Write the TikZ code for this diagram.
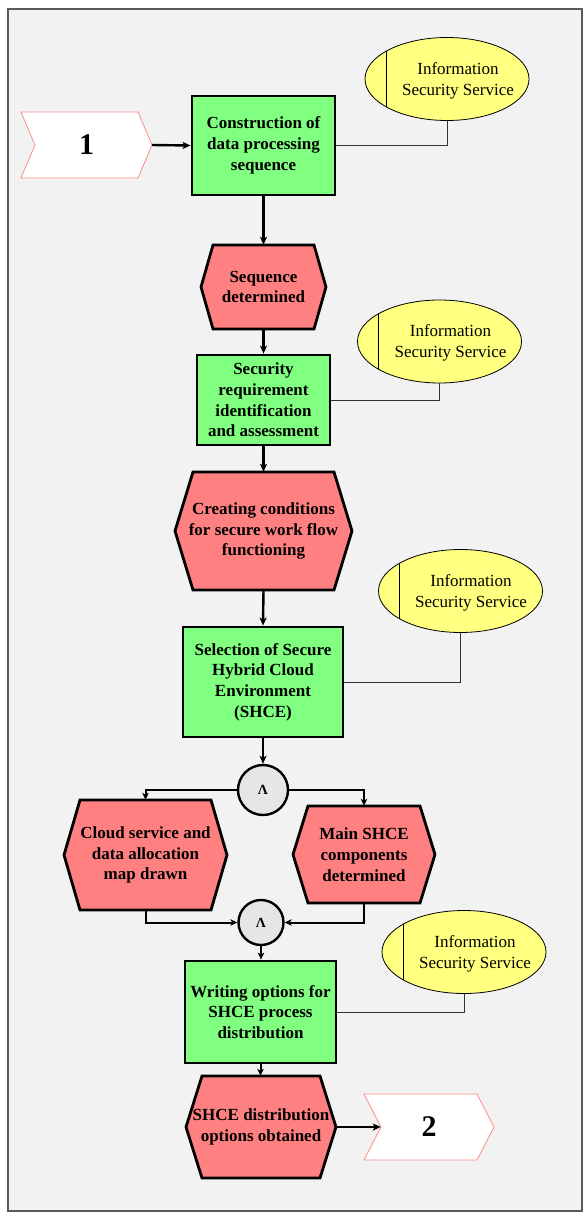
\documentclass[tikz,border=0pt]{standalone}
\usepackage{fontspec}
\setmainfont{Liberation Serif}
\usetikzlibrary{arrows.meta,shapes.geometric,calc}
\definecolor{bgc}{HTML}{F2F2F2}
\definecolor{grn}{HTML}{80FF80}
\definecolor{hexred}{HTML}{FF8080}
\definecolor{ylw}{HTML}{FFFF80}
\definecolor{gatec}{HTML}{E6E6E6}
\definecolor{chevline}{HTML}{FF8C8C}
\definecolor{framec}{HTML}{5A5A5A}
\definecolor{linkc}{HTML}{333333}

% name, cx, cy, w, h, inset, text
\newcommand\hexnode[7]{%
  \filldraw[hexshape] ({#2-#4/2+#6},{#3-#5/2}) -- ({#2+#4/2-#6},{#3-#5/2}) -- ({#2+#4/2},{#3})
    -- ({#2+#4/2-#6},{#3+#5/2}) -- ({#2-#4/2+#6},{#3+#5/2}) -- ({#2-#4/2},{#3}) -- cycle;
  \node[hextxt, minimum width=#4, minimum height=#5] (#1) at (#2,#3) {#7};}
% name, cx, cy, w, h, depth, text
\newcommand\chevnode[7]{%
  \filldraw[chevshape] ({#2-#4/2},{#3-#5/2}) -- ({#2+#4/2-#6},{#3-#5/2}) -- ({#2+#4/2},{#3})
    -- ({#2+#4/2-#6},{#3+#5/2}) -- ({#2-#4/2},{#3+#5/2}) -- ({#2-#4/2+#6},{#3}) -- cycle;
  \node[chevtxt, minimum width=#4, minimum height=#5] (#1) at (#2,#3) {#7};}

\begin{document}
\begin{tikzpicture}[x=1pt,y=-1pt,
  txt/.style={font=\bfseries\fontsize{17}{20.7}\selectfont, align=center, inner sep=0pt},
  box/.style={txt, draw=black, line width=2.8pt, fill=grn},
  hexshape/.style={fill=hexred, draw=black, line width=2.8pt, line join=miter},
  hextxt/.style={txt},
  chevshape/.style={fill=white, draw=chevline, line width=0.8pt},
  chevtxt/.style={font=\bfseries\fontsize{30}{34}\selectfont, inner sep=0pt},
  iss/.style={ellipse, draw=black, line width=0.8pt, fill=ylw, minimum width=164, minimum height=83, inner sep=0pt,
     path picture={\draw[line width=1pt] ([xshift=21pt]path picture bounding box.west) ++(0,-60) -- ++(0,120);}},
  isstxt/.style={font=\fontsize{17}{20.7}\selectfont, align=center, inner sep=0pt},
  gate/.style={circle, draw=black, line width=2.4pt, fill=gatec, inner sep=0pt, font=\bfseries\fontsize{14}{16}\selectfont},
  flow/.style={line width=2.4pt, -{Stealth[length=8pt,width=7pt,inset=2pt]}},
  flowb/.style={line width=2pt, -{Stealth[length=7pt,width=6.5pt,inset=2pt]}},
  link/.style={draw=linkc, line width=0.9pt}
]
\useasboundingbox (0,0) rectangle (584,1215);
\filldraw[fill=bgc, draw=framec, line width=2pt] (8,9) rectangle (582,1211);

% start chevron
\chevnode{c1}{86.5}{145}{131}{66}{14}{1}

% boxes
\node[box, minimum width=143, minimum height=99] (b1) at (263.5,145.5) {Construction of\\data processing\\sequence};
\node[iss] (e1) at (447,79) {};
\node[isstxt] (e1t) at (458,80.5) {Information\\Security Service};

\hexnode{h1}{263.5}{287}{125}{84}{12}{Sequence\\determined}

\node[box, minimum width=133, minimum height=90] (b2) at (263.5,400) {Security\\requirement\\identification\\and assessment};
\node[iss] (e2) at (439.5,341.5) {};
\node[isstxt] (e2t) at (450.5,343) {Information\\Security Service};

\hexnode{h2}{263.5}{531}{177}{118}{18}{Creating conditions\\for secure work flow\\functioning}

\node[box, minimum width=160, minimum height=110] (b3) at (263,682) {Selection of Secure\\Hybrid Cloud\\Environment\\(SHCE)};
\node[iss] (e3) at (460.5,591) {};
\node[isstxt] (e3t) at (471,592.5) {Information\\Security Service};

\node[gate, minimum size=50] (g1) at (263,790) {Λ};

\hexnode{h3}{145.5}{855}{163}{110}{16}{Cloud service and\\data allocation\\map drawn}
\hexnode{h4}{364}{854.5}{142}{97}{15}{Main SHCE\\components\\determined}

\node[gate, minimum size=45] (g2) at (261,922.5) {Λ};

\node[box, minimum width=151, minimum height=102] (b4) at (260.5,1012) {Writing options for\\SHCE process\\distribution};
\node[iss] (e4) at (464,952) {};
\node[isstxt] (e4t) at (475,953.5) {Information\\Security Service};

\hexnode{h5}{261}{1127}{150}{102}{16}{SHCE distribution\\options obtained}

\chevnode{c2}{429}{1127}{130}{66}{17}{2}

% flow connectors
\draw[flow] (c1.east) -- (b1.west);
\draw[flow] (b1.south) -- (h1.north);
\draw[flow] (h1.south) -- (b2.north);
\draw[flow] (b2.south) -- (h2.north);
\draw[flow] (h2.south) -- (b3.north);
\draw[flow] (b3.south) -- (g1.north);
\draw[flowb] (g1.west) -| (h3.north);
\draw[flowb] (g1.east) -| (h4.north);
\draw[flowb] (h3.south) |- (g2.west);
\draw[flowb] (h4.south) |- (g2.east);
\draw[flowb] (g2.south) -- (g2.south |- b4.north);
\draw[flowb] (b4.south) -- (b4.south |- h5.north);
\draw[flow] (h5.east) -- ([xshift=17pt]c2.west);

% service links
\draw[link] (b1.east) -| (e1.south);
\draw[link] (b2.east) -| (e2.south);
\draw[link] (b3.east) -| (e3.south);
\draw[link] (b4.east) -| (e4.south);
\end{tikzpicture}
\end{document}
